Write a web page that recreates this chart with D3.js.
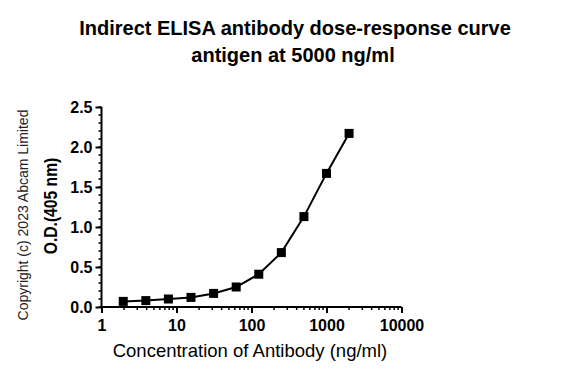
<!DOCTYPE html>
<html>
<head>
<meta charset="utf-8">
<script src="https://cdn.jsdelivr.net/npm/d3@7"></script>
<style>
    body { margin: 0; background: #fff; }
    svg { font-family: "Liberation Sans", Arial, sans-serif; }
</style>
</head>
<body>
<svg id="chart" width="561" height="378"></svg>
<script>
// concentrations (ng/ml) and optical densities
var concentration = [1.95, 3.9, 7.8, 15.6, 31.25, 62.5, 125, 250, 500, 1000, 2000];
var od = [0.07, 0.08, 0.10, 0.12, 0.17, 0.25, 0.41, 0.68, 1.13, 1.67, 2.17];
var xTicks = [1, 10, 100, 1000, 10000];
var yTicks = [0, 0.5, 1.0, 1.5, 2.0, 2.5];

var svg = d3.select("#chart");

var x = d3.scaleLog().domain([1, 10000]).range([101.5, 401.5]);
var y = d3.scaleLinear().domain([0, 2.5]).range([307, 107]);

// title
svg.append("text")
    .attr("x", 295).attr("y", 35)
    .attr("text-anchor", "middle")
    .attr("font-size", 20).attr("font-weight", "bold")
    .text("Indirect ELISA antibody dose-response curve");
svg.append("text")
    .attr("x", 293).attr("y", 62)
    .attr("text-anchor", "middle")
    .attr("font-size", 20).attr("font-weight", "bold")
    .text("antigen at 5000 ng/ml");

// minor ticks
var yMinor = d3.range(0, 26).map(function (d) { return d / 10; });
svg.append("g")
    .selectAll("line")
    .data(yMinor)
    .enter().append("line")
    .attr("x1", x(1) - 3).attr("x2", x(1))
    .attr("y1", function (d) { return y(d); })
    .attr("y2", function (d) { return y(d); })
    .attr("stroke", "#000").attr("stroke-width", 1.5);

var xMinor = [];
[1, 10, 100, 1000].forEach(function (base) {
    for (var i = 2; i < 10; i++) xMinor.push(base * i);
});
svg.append("g")
    .selectAll("line")
    .data(xMinor)
    .enter().append("line")
    .attr("x1", function (d) { return x(d); })
    .attr("x2", function (d) { return x(d); })
    .attr("y1", y(0)).attr("y2", y(0) + 3)
    .attr("stroke", "#000").attr("stroke-width", 1.5);

// axes
var yAxis = svg.append("g")
    .attr("transform", "translate(" + x(1) + ",0)")
    .call(d3.axisLeft(y).tickValues(yTicks).tickFormat(d3.format(".1f")).tickSize(6).tickPadding(3));

var xAxis = svg.append("g")
    .attr("transform", "translate(0," + y(0) + ")")
    .call(d3.axisBottom(x).tickValues(xTicks).tickFormat(d3.format("d")).tickSize(6).tickPadding(7));

[xAxis, yAxis].forEach(function (g) {
    g.select(".domain").attr("stroke-width", 2);
    g.selectAll(".tick line").attr("stroke-width", 2);
    g.selectAll("text")
        .attr("font-family", "Liberation Sans, Arial, sans-serif")
        .attr("font-size", 16).attr("font-weight", "bold").attr("fill", "#000");
});
yAxis.select(".domain").attr("d", "M0," + (y(2.5)) + "V" + y(0));
xAxis.select(".domain").attr("d", "M" + x(1) + ",0H" + x(10000));

// axis titles
svg.append("text")
    .attr("x", 250).attr("y", 357)
    .attr("text-anchor", "middle")
    .attr("font-size", 18.5)
    .text("Concentration of Antibody (ng/ml)");

svg.append("text")
    .attr("transform", "translate(57,206) rotate(-90) scale(0.87,1)")
    .attr("text-anchor", "middle")
    .attr("font-size", 18).attr("font-weight", "bold")
    .text("O.D.(405 nm)");

svg.append("text")
    .attr("transform", "translate(28,215) rotate(-90)")
    .attr("text-anchor", "middle")
    .attr("font-size", 14)
    .attr("fill", "#222")
    .text("Copyright (c) 2023 Abcam Limited");

// curve and markers
var points = concentration.map(function (c, i) { return [c, od[i]]; });

svg.append("path")
    .datum(points)
    .attr("fill", "none")
    .attr("stroke", "#000")
    .attr("stroke-width", 2)
    .attr("d", d3.line()
        .x(function (d) { return x(d[0]); })
        .y(function (d) { return y(d[1]); }));

svg.append("g")
    .selectAll("rect")
    .data(points)
    .enter().append("rect")
    .attr("x", function (d) { return x(d[0]) - 4.5; })
    .attr("y", function (d) { return y(d[1]) - 4.5; })
    .attr("width", 9).attr("height", 9)
    .attr("fill", "#000");
</script>
</body>
</html>
